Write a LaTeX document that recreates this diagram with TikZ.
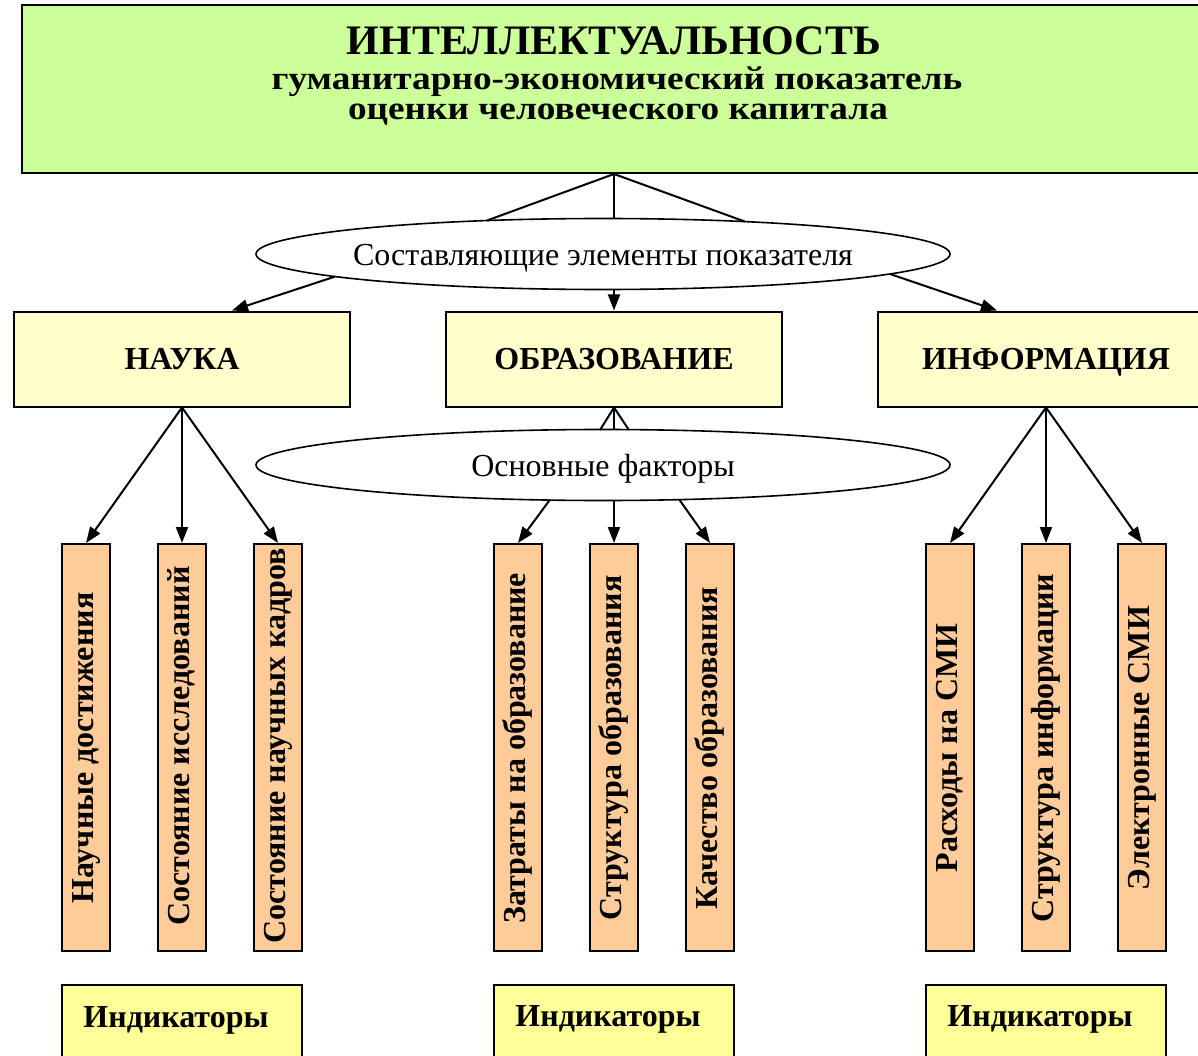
\documentclass[tikz,border=0pt]{standalone}
\usepackage{graphicx}
\usepackage{fontspec}
\setmainfont{Liberation Serif}
\usetikzlibrary{shapes.geometric,arrows.meta}
\definecolor{topgreen}{HTML}{CCFF99}
\definecolor{lyellow}{HTML}{FFFFCC}
\definecolor{peach}{HTML}{FFCC99}
\definecolor{indyellow}{HTML}{FFFF99}
\tikzset{
  box/.style={draw=black, line width=2pt, inner sep=0pt},
  topbox/.style={box, fill=topgreen},
  catbox/.style={box, fill=lyellow, minimum width=336pt, minimum height=95pt, text height=21pt, text depth=0pt, font=\fontsize{32}{32}\selectfont\bfseries},
  vbox/.style={box, fill=peach, minimum width=48pt, minimum height=407pt},
  vtext/.style={rotate=90, font=\fontsize{32}{32}\selectfont\bfseries, inner sep=0pt, text height=21pt, text depth=6pt},
  indbox/.style={box, fill=indyellow, minimum width=240pt, minimum height=110pt},
  indtext/.style={font=\fontsize{32}{32}\selectfont\bfseries, inner sep=0pt, anchor=base},
  oval/.style={ellipse, draw=black, line width=1.6pt, fill=white, minimum width=694pt, minimum height=71pt, inner sep=0pt},
  ovaltext/.style={font=\fontsize{32}{32}\selectfont, inner sep=0pt, text height=21pt, text depth=0pt},
  titletext/.style={inner sep=0pt, anchor=base},
  link/.style={line width=2pt},
  arr/.style={line width=2pt, -{Triangle[length=16pt,width=12pt]}}
}
\begin{document}
\begin{tikzpicture}[x=1pt,y=-1pt]
\useasboundingbox (0,0) rectangle (1198,1056);
% top box
\node[topbox, minimum width=1184pt, minimum height=168pt] (top) at (614,89) {};
\node[titletext, font=\fontsize{42}{42}\selectfont\bfseries] (t1) at (614,55) {ИНТЕЛЛЕКТУАЛЬНОСТЬ};
\node[titletext, font=\fontsize{33}{33}\selectfont\bfseries] (t2) at (617,90) {\scalebox{1.13}[1]{гуманитарно-экономический показатель}};
\node[titletext, font=\fontsize{33}{33}\selectfont\bfseries] (t3) at (618,120) {\scalebox{1.13}[1]{оценки человеческого капитала}};
% ellipse 1
\node[oval] (e1) at (603,254) {};
\node[ovaltext] (e1t) at (603,255) {Составляющие элементы показателя};
% categories
\node[catbox] (nauka) at (182,359) {НАУКА};
\node[catbox] (obr) at (614,359) {ОБРАЗОВАНИЕ};
\node[catbox] (inf) at (1046,359) {ИНФОРМАЦИЯ};
% ellipse 2
\node[oval] (e2) at (603,465) {};
\node[ovaltext] (e2t) at (603,466) {Основные факторы};
% top links
\draw[link] (top.south) -- ([xshift=-116pt,yshift=33.5pt]e1.center);
\draw[link] (top.south) -- (e1.north -| top.south);
\draw[link] (top.south) -- ([xshift=142pt,yshift=32.4pt]e1.center);
% ellipse 1 arrows
\draw[arr] ([xshift=-268pt,yshift=-22.6pt]e1.center) -- ([xshift=50pt]nauka.north);
\draw[arr] (e1.south -| obr.north) -- (obr.north);
\draw[arr] ([xshift=287pt,yshift=-20pt]e1.center) -- ([xshift=-49pt]inf.north);
% vertical boxes
\node[vbox] (n1) at (86,747.5) {};
\node[vbox] (n2) at (182,747.5) {};
\node[vbox] (n3) at (278,747.5) {};
\node[vbox] (o1) at (518,747.5) {};
\node[vbox] (o2) at (614,747.5) {};
\node[vbox] (o3) at (710,747.5) {};
\node[vbox] (i1) at (950,747.5) {};
\node[vbox] (i2) at (1046,747.5) {};
\node[vbox] (i3) at (1142,747.5) {};
\node[vtext] (n1t) at (86,748) {Научные достижения};
\node[vtext] (n2t) at (182,746) {Состояние исследований};
\node[vtext] (n3t) at (278,746) {Состояние научных кадров};
\node[vtext] (o1t) at (518,748) {Затраты на образование};
\node[vtext] (o2t) at (614,748) {Структура образования};
\node[vtext] (o3t) at (710,748) {Качество образования};
\node[vtext] (i1t) at (950,748) {Расходы на СМИ};
\node[vtext] (i2t) at (1046,748) {Структура информации};
\node[vtext] (i3t) at (1142,748) {Электронные СМИ};
% nauka arrows
\draw[arr] (nauka.south) -- (n1.north);
\draw[arr] (nauka.south) -- (n2.north);
\draw[arr] (nauka.south) -- (n3.north);
% obr links to ellipse 2
\draw[link] (obr.south) -- ([xshift=-3pt,yshift=35pt]e2.center);
\draw[link] (obr.south) -- (e2.north -| obr.south);
\draw[link] (obr.south) -- ([xshift=26pt,yshift=34.9pt]e2.center);
% ellipse 2 arrows
\draw[arr] ([xshift=-53pt,yshift=-34.6pt]e2.center) -- (o1.north);
\draw[arr] (e2.south -| o2.north) -- (o2.north);
\draw[arr] ([xshift=76pt,yshift=-34.2pt]e2.center) -- (o3.north);
% inf arrows
\draw[arr] (inf.south) -- (i1.north);
\draw[arr] (inf.south) -- (i2.north);
\draw[arr] (inf.south) -- (i3.north);
% indicators
\node[indbox] (ind1) at (182,1040) {};
\node[indbox] (ind2) at (614,1040) {};
\node[indbox] (ind3) at (1046,1040) {};
\node[indtext] (ind1t) at (176,1027) {Индикаторы};
\node[indtext] (ind2t) at (608,1026) {Индикаторы};
\node[indtext] (ind3t) at (1040,1026) {Индикаторы};
\end{tikzpicture}
\end{document}
